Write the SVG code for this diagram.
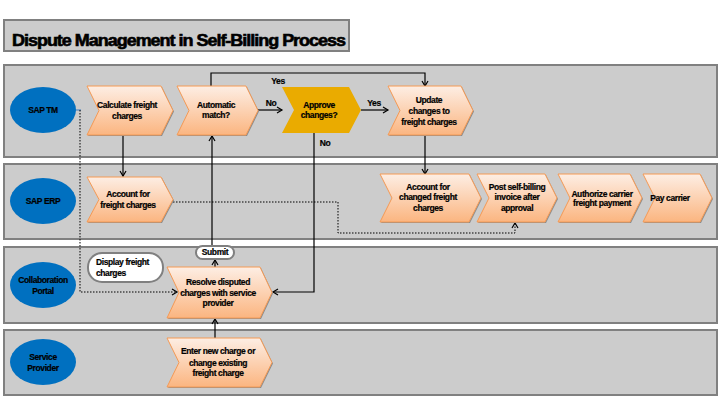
<svg xmlns="http://www.w3.org/2000/svg" width="720" height="405" viewBox="0 0 720 405">
<defs>
<linearGradient id="g" x1="0" y1="0" x2="0" y2="1">
<stop offset="0" stop-color="#fdeee4"/>
<stop offset="1" stop-color="#fbb580"/>
</linearGradient>
<marker id="a" markerWidth="8" markerHeight="8" refX="6" refY="4" orient="auto" markerUnits="userSpaceOnUse">
<path d="M1,1 L6,4 L1,7" fill="none" stroke="#000" stroke-width="1.2"/>
</marker>
</defs>
<style>
.lane{fill:#cccccc;stroke:#808080;stroke-width:2}
.ell{fill:#0070c0}
.chev{fill:url(#g);stroke:#f59a55;stroke-width:1}
.sh{fill:#8c8c8c}
.gold{fill:#eaab00}
.pill{fill:#fff;stroke:#808080;stroke-width:2}
text{font-family:"Liberation Sans",Arial,sans-serif;font-weight:bold;font-size:8.5px;fill:#000;text-anchor:middle;letter-spacing:-0.4px;stroke:#000;stroke-width:0.2px}
.ttl{font-size:16px;text-anchor:start;letter-spacing:-0.9px;stroke-width:0.6px}
.ln{fill:none;stroke:#000;stroke-width:1.2}
.dot{fill:none;stroke:#000;stroke-width:1;stroke-dasharray:1.5,1.5}
</style>
<rect x="0" y="0" width="720" height="405" fill="#fff"/>
<g id="title">
<rect x="4" y="20" width="345" height="31" class="lane"/>
<text x="12" y="46" class="ttl" textLength="333" lengthAdjust="spacingAndGlyphs">Dispute Management in Self-Billing Process</text>
</g>
<g id="lanes">
<rect x="4" y="65" width="713" height="92" class="lane"/>
<rect x="4" y="164" width="713" height="75" class="lane"/>
<rect x="4" y="247" width="713" height="76" class="lane"/>
<rect x="4" y="330" width="713" height="65" class="lane"/>
</g>
<g id="lane-sap-tm"><ellipse cx="43" cy="110" rx="33" ry="23" class="ell"/><text x="43" y="113">SAP TM</text></g>
<g id="lane-sap-erp"><ellipse cx="43" cy="201" rx="33" ry="23" class="ell"/><text x="43" y="204">SAP ERP</text></g>
<g id="lane-collab"><ellipse cx="43" cy="285" rx="33" ry="23" class="ell"/><text x="43" y="283">Collaboration</text><text x="43" y="294">Portal</text></g>
<g id="lane-sp"><ellipse cx="43" cy="362" rx="33" ry="23" class="ell"/><text x="43" y="360">Service</text><text x="43" y="371">Provider</text></g>

<g id="connectors">
<line x1="76" y1="110" x2="81" y2="110" stroke="#3a7cc0" stroke-width="1"/>
<polyline points="80,110 80,292 177,292" class="dot" marker-end="url(#a)"/>
<polyline points="173,202 338,202 338,233 515,233 515,223" class="dot" marker-end="url(#a)"/>
<line x1="123" y1="135" x2="123" y2="176" class="ln" marker-end="url(#a)"/>
<line x1="258" y1="110" x2="282" y2="110" class="ln" marker-end="url(#a)"/>
<line x1="361" y1="110" x2="388" y2="110" class="ln" marker-end="url(#a)"/>
<polyline points="211,86 211,73 425,73 425,86" class="ln" marker-end="url(#a)"/>
<polyline points="314,133 314,292 273,292" class="ln" marker-end="url(#a)"/>
<line x1="425" y1="135" x2="425" y2="174" class="ln" marker-end="url(#a)"/>
<line x1="212" y1="246" x2="212" y2="136" class="ln" marker-end="url(#a)"/>
<line x1="215" y1="267" x2="215" y2="260" class="ln" marker-end="url(#a)"/>
<line x1="215" y1="338" x2="215" y2="319" class="ln" marker-end="url(#a)"/>
<text x="271" y="106">No</text>
<text x="374" y="106">Yes</text>
<text x="278" y="84">Yes</text>
<text x="325" y="146">No</text>
</g>

<g id="calc"><polygon points="88,87 162,87 174,111.5 162,136 88,136 100,111.5" class="sh"/><polygon points="87,86 161,86 173,110.5 161,135 87,135 99,110.5" class="chev"/><text x="127" y="108">Calculate freight</text><text x="127" y="119">charges</text></g>
<g id="auto"><polygon points="178,87 247,87 259,111.5 247,136 178,136 190,111.5" class="sh"/><polygon points="177,86 246,86 258,110.5 246,135 177,135 189,110.5" class="chev"/><text x="216" y="108">Automatic</text><text x="216" y="118">match?</text></g>
<g id="approve"><polygon points="282,87 349,87 361,110 349,133 282,133 294,110" class="gold"/><text x="319" y="108">Approve</text><text x="319" y="118">changes?</text></g>
<g id="update"><polygon points="389,87 462,87 474,111.5 462,136 389,136 401,111.5" class="sh"/><polygon points="388,86 461,86 473,110.5 461,135 388,135 400,110.5" class="chev"/><text x="429" y="103">Update</text><text x="429" y="114">changes to</text><text x="429" y="125">freight charges</text></g>
<g id="acct"><polygon points="88,178 162,178 174,200.5 162,223 88,223 100,200.5" class="sh"/><polygon points="87,177 161,177 173,199.5 161,222 87,222 99,199.5" class="chev"/><text x="128" y="197">Account for</text><text x="128" y="208">freight charges</text></g>
<g id="acct-changed"><polygon points="381,175 470,175 482,199 470,223 381,223 393,199" class="sh"/><polygon points="380,174 469,174 481,198 469,222 380,222 392,198" class="chev"/><text x="428" y="190">Account for</text><text x="428" y="200">changed freight</text><text x="428" y="211">charges</text></g>
<g id="post"><polygon points="478,175 546,175 558,199 546,223 478,223 490,199" class="sh"/><polygon points="477,174 545,174 557,198 545,222 477,222 489,198" class="chev"/><text x="517" y="190">Post self-billing</text><text x="517" y="200">invoice after</text><text x="517" y="211">approval</text></g>
<g id="authorize"><polygon points="559,175 631,175 643,199 631,223 559,223 571,199" class="sh"/><polygon points="558,174 630,174 642,198 630,222 558,222 570,198" class="chev"/><text x="602" y="197">Authorize carrier</text><text x="602" y="206">freight payment</text></g>
<g id="pay"><polygon points="644,175 701,175 713,199 701,223 644,223 656,199" class="sh"/><polygon points="643,174 700,174 712,198 700,222 643,222 655,198" class="chev"/><text x="670" y="201">Pay carrier</text></g>
<g id="display"><rect x="88" y="253" width="75" height="29" rx="14" class="pill"/><text x="96" y="265" style="text-anchor:start">Display freight</text><text x="96" y="276" style="text-anchor:start">charges</text></g>
<g id="submit"><rect x="196" y="246" width="38" height="13" rx="6.5" class="pill"/><text x="215" y="255">Submit</text></g>
<g id="resolve"><polygon points="168,268 261,268 273,293.5 261,319 168,319 180,293.5" class="sh"/><polygon points="167,267 260,267 272,292.5 260,318 167,318 179,292.5" class="chev"/><text x="218" y="285">Resolve disputed</text><text x="218" y="296">charges with service</text><text x="218" y="306">provider</text></g>
<g id="enter"><polygon points="168,339 261,339 273,363.5 261,388 168,388 180,363.5" class="sh"/><polygon points="167,338 260,338 272,362.5 260,387 167,387 179,362.5" class="chev"/><text x="218" y="354">Enter new charge or</text><text x="218" y="366">change existing</text><text x="218" y="376">freight charge</text></g>
</svg>
